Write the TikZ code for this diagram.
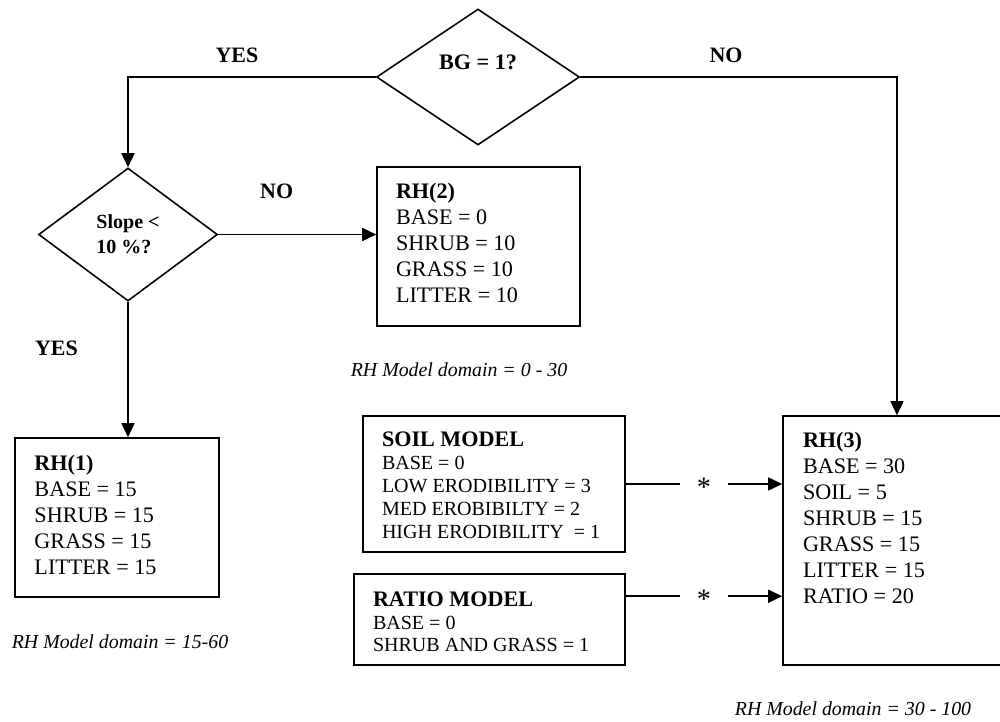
\documentclass[tikz,border=0pt]{standalone}
\usepackage{fontspec}
\setmainfont{Liberation Serif}
\usetikzlibrary{arrows.meta,positioning,calc,shapes.geometric}

\begin{document}
\begin{tikzpicture}[>={Triangle[length=0.28cm,width=0.26cm]},line width=0.9pt,
  decision/.style={draw,diamond,inner sep=0pt,align=left,font=\fontsize{11.4}{14.2}\selectfont\bfseries},
  rhbox/.style={draw,rectangle,inner sep=0pt},
  rhtext/.style={align=left,inner sep=0pt,font=\fontsize{12.6}{14.75}\selectfont},
  modeltext/.style={align=left,inner sep=0pt,font=\fontsize{11.4}{13}\selectfont},
  answer/.style={font=\fontsize{12.5}{15}\selectfont\bfseries},
  domainnote/.style={font=\fontsize{11.3}{13}\selectfont\itshape},
  starmark/.style={fill=white,inner xsep=0.33cm,inner ysep=0.1cm,yshift=-0.07cm,font=\fontsize{16}{16}\selectfont}]
  \useasboundingbox (0,0) rectangle (20,-14.42);

  % decisions
  \node[decision,minimum width=4.06cm,minimum height=2.72cm] (bg) at (9.56,-1.54) {};
  \node[font=\fontsize{12.6}{15}\selectfont\bfseries] (bgq) at ([yshift=0.29cm]bg.center) {BG = 1?};
  \node[decision,minimum width=3.58cm,minimum height=2.66cm] (slope) at (2.56,-4.69) {Slope <\\10 \%?};

  % result boxes
  \node[rhbox,minimum width=4.06cm,minimum height=3.18cm] (rh2) at (9.57,-4.93) {};
  \node[rhtext,below right=0.33cm and 0.38cm of rh2.north west] (rh2txt)
    {\textbf{RH(2)}\\BASE = 0\\SHRUB = 10\\GRASS = 10\\LITTER = 10};
  \node[rhbox,minimum width=4.08cm,minimum height=3.18cm] (rh1) at (2.34,-10.35) {};
  \node[rhtext,below right=0.35cm and 0.39cm of rh1.north west] (rh1txt)
    {\textbf{RH(1)}\\BASE = 15\\SHRUB = 15\\GRASS = 15\\LITTER = 15};
  \node[rhbox,minimum width=4.56cm,minimum height=4.98cm] (rh3) at (17.94,-10.81) {};
  \node[rhtext,below right=0.33cm and 0.4cm of rh3.north west] (rh3txt)
    {\textbf{RH(3)}\\BASE = 30\\SOIL = 5\\SHRUB = 15\\GRASS = 15\\LITTER = 15\\RATIO = 20};

  % sub models
  \node[rhbox,minimum width=5.24cm,minimum height=2.72cm] (soil) at (9.88,-9.68) {};
  \node[modeltext,below right=0.32cm and 0.38cm of soil.north west] (soiltxt)
    {{\fontsize{12.6}{13}\selectfont\bfseries SOIL MODEL}\\BASE = 0\\LOW ERODIBILITY = 3\\MED EROBIBILTY = 2\\HIGH ERODIBILITY\ \ = 1};
  \node[rhbox,minimum width=5.42cm,minimum height=1.82cm] (ratio) at (9.79,-12.39) {};
  \node[modeltext,below right=0.35cm and 0.38cm of ratio.north west] (ratiotxt)
    {{\fontsize{12.6}{13}\selectfont\bfseries RATIO MODEL}\\BASE = 0\\SHRUB AND GRASS = 1};
  \coordinate (ratioout) at ([yshift=-0.46cm]ratio.north east);

  % domains
  \node[domainnote] (dom2) at (9.18,-7.40) {RH Model domain = 0 - 30};
  \node[domainnote] (dom1) at (2.40,-12.84) {RH Model domain = 15-60};
  \node[domainnote] (dom3) at (17.06,-14.18) {RH Model domain = 30 - 100};

  % connectors
  \draw[->] (bg.west) -| node[answer,above=0.15cm,pos=0.28] (yes1) {YES} (slope.north);
  \draw[->] (bg.east) -| node[answer,above=0.15cm,pos=0.23] (no1) {NO} (rh3.north);
  \draw[->] (slope.east) -- node[answer,above=0.59cm,pos=0.37] (no2) {NO} (slope.east -| rh2.west);
  \draw[->] (slope.south) -- node[answer,left=0.87cm,pos=0.34] (yes2) {YES} (slope.south |- rh1.north);
  \draw[->] (soil.east) -- node[starmark] (star1) {*} (soil.east -| rh3.west);
  \draw[->] (ratioout) -- node[starmark] (star2) {*} (ratioout -| rh3.west);
\end{tikzpicture}
\end{document}
